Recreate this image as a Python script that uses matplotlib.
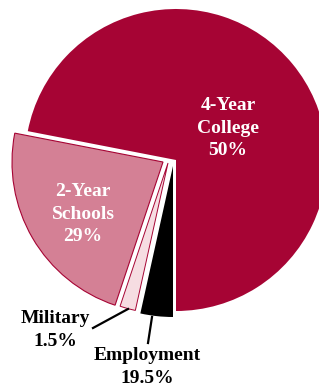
import matplotlib.pyplot as plt

# ------------------------------------------------------------
# datos
# ------------------------------------------------------------
categories = ["4-Year\nCollege", "2-Year\nSchools", "Military", "Employment"]
pct_labels = ["50%", "29%", "1.5%", "19.5%"]
# tamaño de las porciones tal como se dibujan en la figura
slice_share = [71.94, 22.92, 1.67, 3.47]

colors = ["#A60434", "#D48095", "#F6DDE2", "#000000"]
# desplazamiento de cada porcion respecto al centro (px)
wedge_shift = [(0, 0), (-13, -2), (-8, -3), (-3, -6)]

W, H = 319, 389
CX, CY = 176, H - 160

fig = plt.figure(figsize=(W / 100, H / 100), dpi=100)
ax = fig.add_axes([0, 0, 1, 1])

wedges, _ = ax.pie(slice_share, colors=colors, startangle=-90,
                   counterclock=True, radius=151, center=(CX, CY),
                   wedgeprops=dict(linewidth=0))
for w, (dx, dy) in zip(wedges, wedge_shift):
    w.set_center((CX + dx, CY + dy))
wedges[1].set_edgecolor("#A60434")
wedges[1].set_linewidth(0.8)
wedges[2].set_edgecolor("#A60434")
wedges[2].set_linewidth(0.7)

ax.set_xlim(0, W)
ax.set_ylim(0, H)
ax.set_aspect("equal")
ax.axis("off")

font = dict(family="Liberation Serif", weight="bold", fontsize=14,
            ha="center", va="center", linespacing=1.45)

ax.text(228, H - 128, categories[0] + "\n" + pct_labels[0], color="white", **font)
ax.text(83, H - 214, categories[1] + "\n" + pct_labels[1], color="white", **font)
ax.text(55, H - 330, categories[2] + "\n" + pct_labels[2], color="black", **font)
ax.text(147, H - 367, categories[3] + "\n" + pct_labels[3], color="black", **font)

# lineas guia
ax.plot([93, 128], [H - 328, H - 309], color="black", lw=1.6)
ax.plot([148, 152], [H - 343, H - 317], color="black", lw=1.6)

fig.savefig("out.png", dpi=100)
